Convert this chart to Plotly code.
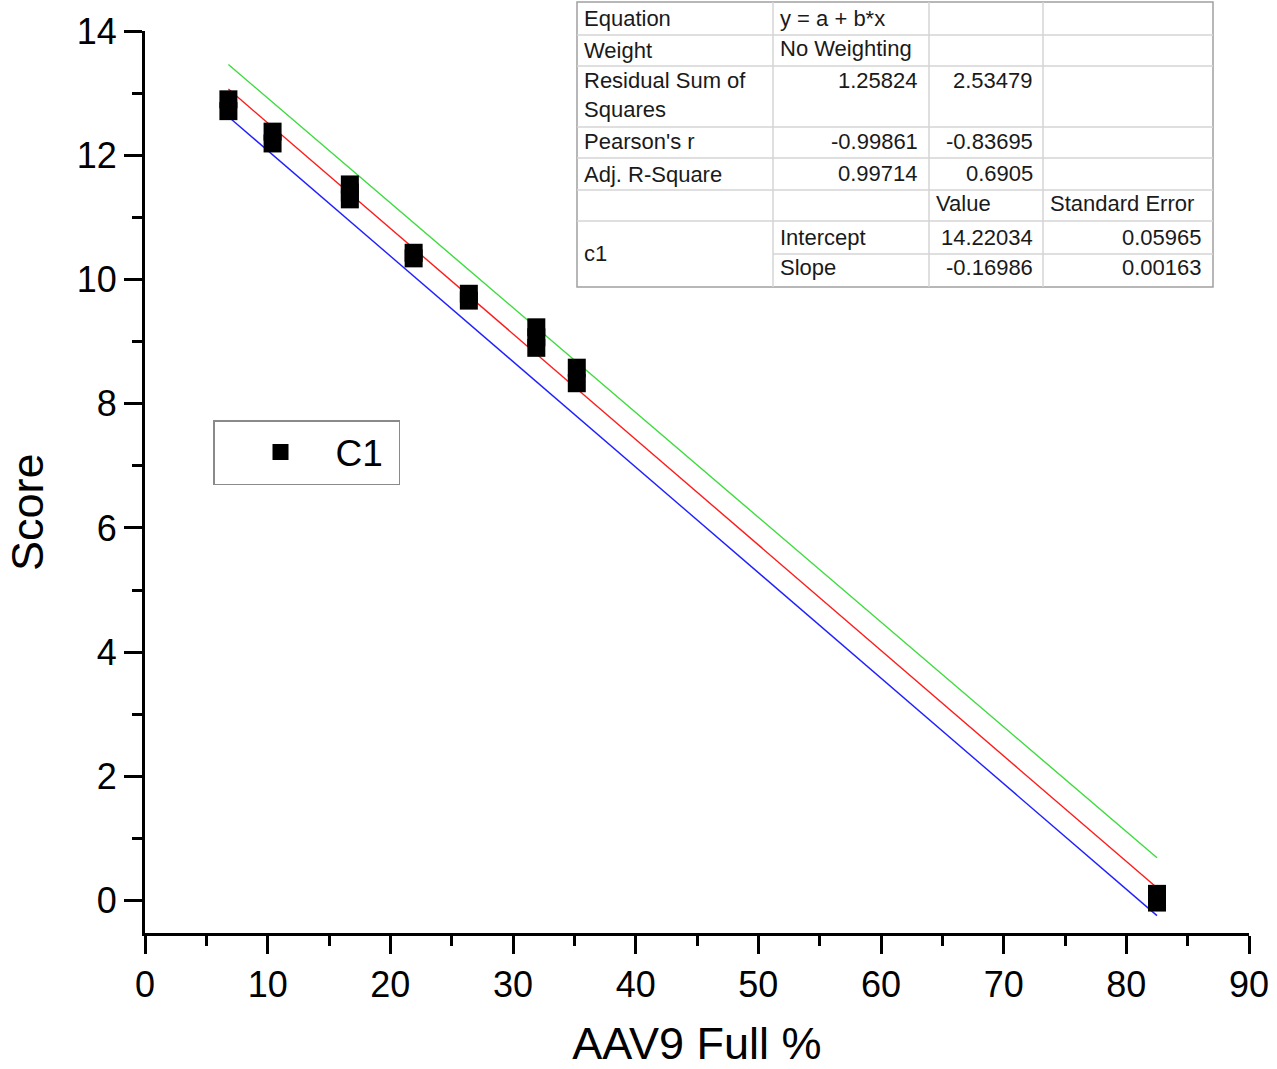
import plotly.graph_objects as go

# ---------------- data ----------------
series_name = "C1"
aav9_full_pct = [6.8, 6.8, 10.4, 10.4, 16.7, 16.7, 16.7, 21.9, 21.9, 26.4, 26.4,
                 31.9, 31.9, 31.9, 35.2, 35.2, 82.5, 82.5]
score = [12.90, 12.71, 12.38, 12.19, 11.53, 11.40, 11.29, 10.43, 10.34, 9.77, 9.66,
         9.23, 9.07, 8.90, 8.58, 8.33, 0.11, -0.03]

fit_intercept = 14.22034
fit_slope = -0.16986
line_x = [6.8, 82.5]
upper_band = [13.46, 0.69]
lower_band = [12.62, -0.24]

x_ticks = [0, 10, 20, 30, 40, 50, 60, 70, 80, 90]
y_ticks = [0, 2, 4, 6, 8, 10, 12, 14]

# fit statistics table (text)
row_labels = ["Equation", "Weight", "Residual Sum of<br>Squares", "Pearson's r", "Adj. R-Square", "", "c1"]
equation_text = "y = a + b*x"
weight_text = "No Weighting"
rss_values = ["1.25824", "2.53479"]
pearson_values = ["-0.99861", "-0.83695"]
adj_r2_values = ["0.99714", "0.6905"]
param_header = ["Value", "Standard Error"]
param_names = ["Intercept", "Slope"]
param_values = ["14.22034", "-0.16986"]
param_errors = ["0.05965", "0.00163"]

# ---------------- figure ----------------
fit_y = [fit_intercept + fit_slope * x for x in line_x]

fig = go.Figure()
fig.add_trace(go.Scatter(x=line_x, y=upper_band, mode="lines",
                         line=dict(color="#3ddc3d", width=1.4), showlegend=False))
fig.add_trace(go.Scatter(x=line_x, y=lower_band, mode="lines",
                         line=dict(color="#2020ff", width=1.4), showlegend=False))
fig.add_trace(go.Scatter(x=line_x, y=fit_y, mode="lines",
                         line=dict(color="#ff1a1a", width=1.4), showlegend=False))
fig.add_trace(go.Scatter(x=aav9_full_pct, y=score, mode="markers",
                         name=series_name + "\u00a0",
                         marker=dict(symbol="square", size=18, color="black",
                                     line=dict(width=0))))

L, R, T, B = 145, 1249, 31, 933
W, H = R - L, B - T


def px(x):
    return (x - L) / W


def py(y):
    return (B - y) / H


FONT = "Liberation Sans, Arial, sans-serif"
shapes = []
annotations = []

# table background and grid
tx0, tx1, ty0, ty1 = 577, 1213, 2, 287
inner = dict(color="#d4d4d4", width=1.5)
shapes.append(dict(type="rect", xref="paper", yref="paper", x0=px(tx0), x1=px(tx1),
                   y0=py(ty1), y1=py(ty0), fillcolor="white",
                   line=dict(color="#a0a0a0", width=1.5), layer="above"))
for yy in [35, 66, 127, 158, 190, 221]:
    shapes.append(dict(type="line", xref="paper", yref="paper", x0=px(tx0), x1=px(tx1),
                       y0=py(yy), y1=py(yy), line=inner, layer="above"))
shapes.append(dict(type="line", xref="paper", yref="paper", x0=px(773), x1=px(tx1),
                   y0=py(254), y1=py(254), line=inner, layer="above"))
for xx in [773, 929, 1043]:
    shapes.append(dict(type="line", xref="paper", yref="paper", x0=px(xx), x1=px(xx),
                       y0=py(ty1), y1=py(ty0), line=inner, layer="above"))


def cell(text, x, y, anchor="left"):
    annotations.append(dict(text=text, xref="paper", yref="paper", x=px(x), y=py(y),
                            xanchor=anchor, yanchor="middle", showarrow=False,
                            font=dict(family=FONT, size=22, color="#1a1a1a"),
                            align="left"))


row_centers = [18, 50, 95, 141, 174, 205, 254]
for lab, yc in zip(row_labels, row_centers):
    if lab:
        cell(lab, 582, yc)
cell(equation_text, 778, 18)
cell(weight_text, 778, 49)
cell(rss_values[0], 920, 80, "right")
cell(rss_values[1], 1035, 80, "right")
cell(pearson_values[0], 920, 141, "right")
cell(pearson_values[1], 1035, 141, "right")
cell(adj_r2_values[0], 920, 173, "right")
cell(adj_r2_values[1], 1035, 173, "right")
cell(param_header[0], 934, 204)
cell(param_header[1], 1048, 204)
for name, val, err, yc in zip(param_names, param_values, param_errors, [237, 268]):
    cell(name, 778, yc)
    cell(val, 1035, yc, "right")
    cell(err, 1204, yc, "right")

# y-axis title placed as rotated text
annotations.append(dict(text="Score", xref="paper", yref="paper", x=px(28), y=py(512),
                        xanchor="center", yanchor="middle", textangle=-90,
                        showarrow=False, font=dict(family=FONT, size=45, color="black")))

axis_common = dict(showline=True, linecolor="black", linewidth=3, ticks="outside",
                   ticklen=18, tickwidth=2.5, tickcolor="black", showgrid=False,
                   zeroline=False, mirror=False, automargin=False,
                   tickfont=dict(family=FONT, size=36, color="black"))

fig.update_layout(
    width=1277, height=1069,
    margin=dict(l=L, r=1277 - R, t=T, b=1069 - B, autoexpand=False),
    paper_bgcolor="white", plot_bgcolor="white",
    font=dict(family=FONT, color="black"),
    xaxis=dict(range=[0, 90], tickvals=x_ticks,
               minor=dict(dtick=5, tick0=0, ticks="outside", ticklen=10,
                          tickwidth=2.5, tickcolor="black"),
               title=dict(text="AAV9 Full %", font=dict(family=FONT, size=45),
                          standoff=30),
               **axis_common),
    yaxis=dict(range=[-0.52, 14], tickvals=y_ticks,
               minor=dict(dtick=1, tick0=0, ticks="outside", ticklen=10,
                          tickwidth=2.5, tickcolor="black"),
               **axis_common),
    legend=dict(x=px(213), y=py(420), xanchor="left", yanchor="top",
                bordercolor="#8a8a8a", borderwidth=1.5, bgcolor="white",
                font=dict(family=FONT, size=37, color="black"),
                indentation=11, itemwidth=100),
    shapes=shapes,
    annotations=annotations,
)

fig.write_html("out.html")
